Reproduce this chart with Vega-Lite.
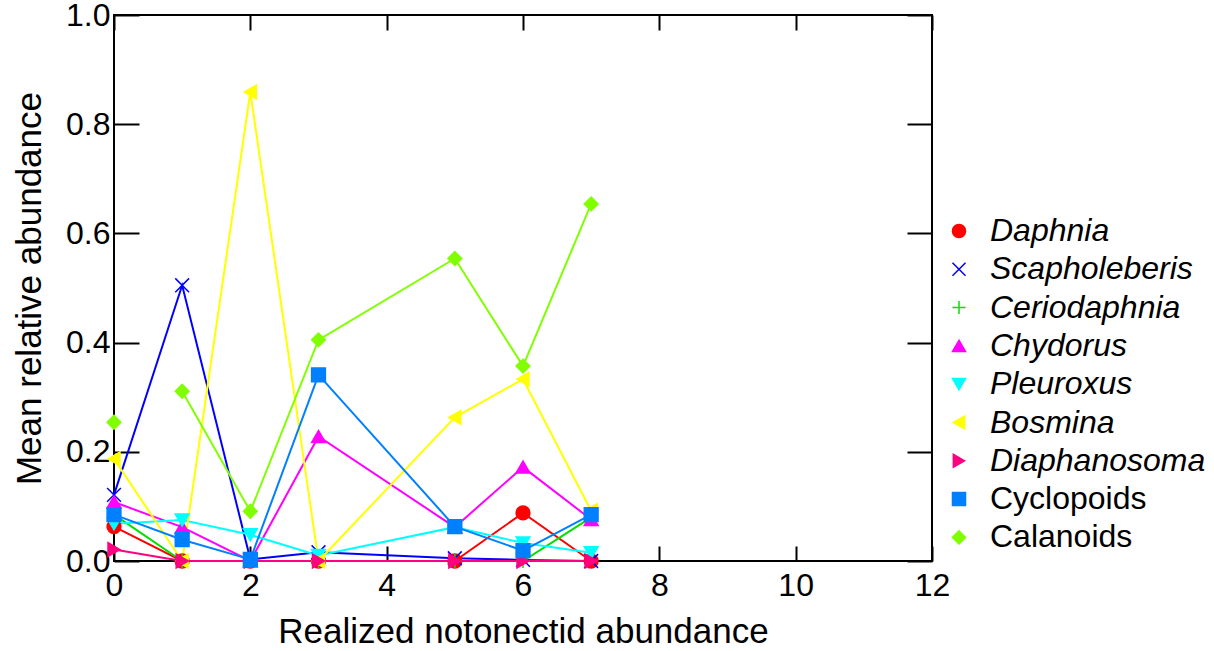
{
  "$schema": "https://vega.github.io/schema/vega-lite/v6.json",
  "width": 818,
  "height": 546,
  "autosize": {"type": "none"},
  "padding": {"left": 114, "top": 15, "right": 282, "bottom": 90},
  "background": "white",
  "config": {
    "font": "Liberation Sans",
    "view": {"stroke": "black", "strokeWidth": 2},
    "axis": {
      "grid": false,
      "domain": false,
      "tickColor": "black",
      "tickWidth": 2,
      "labelFlush": false,
      "labelColor": "black",
      "labelFont": "Liberation Sans",
      "labelFontSize": 32,
      "titleFont": "Liberation Sans",
      "titleFontSize": 35,
      "titleFontWeight": "normal",
      "titleColor": "black"
    },
    "legend": {
      "padding": 0,
      "labelFont": "Liberation Sans",
      "labelFontSize": 32,
      "labelColor": "black",
      "labelOffset": 15,
      "labelLimit": 400,
      "symbolSize": 170,
      "symbolStrokeWidth": 1.5,
      "rowPadding": 6.3
    }
  },
  "data": {
    "values": [
      {"taxon": "Daphnia", "x": 0, "y": 0.063},
      {"taxon": "Daphnia", "x": 1, "y": 0.0},
      {"taxon": "Daphnia", "x": 2, "y": 0.0},
      {"taxon": "Daphnia", "x": 3, "y": 0.0},
      {"taxon": "Daphnia", "x": 5, "y": 0.0},
      {"taxon": "Daphnia", "x": 6, "y": 0.088},
      {"taxon": "Daphnia", "x": 7, "y": 0.0},
      {"taxon": "Scapholeberis", "x": 0, "y": 0.121},
      {"taxon": "Scapholeberis", "x": 1, "y": 0.505},
      {"taxon": "Scapholeberis", "x": 2, "y": 0.003},
      {"taxon": "Scapholeberis", "x": 3, "y": 0.016},
      {"taxon": "Scapholeberis", "x": 5, "y": 0.005},
      {"taxon": "Scapholeberis", "x": 6, "y": 0.002},
      {"taxon": "Scapholeberis", "x": 7, "y": 0.0},
      {"taxon": "Ceriodaphnia", "x": 0, "y": 0.085},
      {"taxon": "Ceriodaphnia", "x": 1, "y": 0.0},
      {"taxon": "Ceriodaphnia", "x": 2, "y": 0.0},
      {"taxon": "Ceriodaphnia", "x": 3, "y": 0.0},
      {"taxon": "Ceriodaphnia", "x": 5, "y": 0.0},
      {"taxon": "Ceriodaphnia", "x": 6, "y": 0.0},
      {"taxon": "Ceriodaphnia", "x": 7, "y": 0.08},
      {"taxon": "Chydorus", "x": 0, "y": 0.108},
      {"taxon": "Chydorus", "x": 1, "y": 0.062},
      {"taxon": "Chydorus", "x": 2, "y": 0.0},
      {"taxon": "Chydorus", "x": 3, "y": 0.228},
      {"taxon": "Chydorus", "x": 5, "y": 0.062},
      {"taxon": "Chydorus", "x": 6, "y": 0.172},
      {"taxon": "Chydorus", "x": 7, "y": 0.076},
      {"taxon": "Pleuroxus", "x": 0, "y": 0.068},
      {"taxon": "Pleuroxus", "x": 1, "y": 0.075},
      {"taxon": "Pleuroxus", "x": 2, "y": 0.048},
      {"taxon": "Pleuroxus", "x": 3, "y": 0.01},
      {"taxon": "Pleuroxus", "x": 5, "y": 0.062},
      {"taxon": "Pleuroxus", "x": 6, "y": 0.033},
      {"taxon": "Pleuroxus", "x": 7, "y": 0.015},
      {"taxon": "Bosmina", "x": 0, "y": 0.187},
      {"taxon": "Bosmina", "x": 1, "y": 0.0},
      {"taxon": "Bosmina", "x": 2, "y": 0.859},
      {"taxon": "Bosmina", "x": 3, "y": 0.0},
      {"taxon": "Bosmina", "x": 5, "y": 0.263},
      {"taxon": "Bosmina", "x": 6, "y": 0.333},
      {"taxon": "Bosmina", "x": 7, "y": 0.092},
      {"taxon": "Diaphanosoma", "x": 0, "y": 0.021},
      {"taxon": "Diaphanosoma", "x": 1, "y": 0.0},
      {"taxon": "Diaphanosoma", "x": 2, "y": 0.0},
      {"taxon": "Diaphanosoma", "x": 3, "y": 0.0},
      {"taxon": "Diaphanosoma", "x": 5, "y": 0.0},
      {"taxon": "Diaphanosoma", "x": 6, "y": 0.0},
      {"taxon": "Diaphanosoma", "x": 7, "y": 0.0},
      {"taxon": "Cyclopoids", "x": 0, "y": 0.085},
      {"taxon": "Cyclopoids", "x": 1, "y": 0.039},
      {"taxon": "Cyclopoids", "x": 2, "y": 0.003},
      {"taxon": "Cyclopoids", "x": 3, "y": 0.341},
      {"taxon": "Cyclopoids", "x": 5, "y": 0.063},
      {"taxon": "Cyclopoids", "x": 6, "y": 0.019},
      {"taxon": "Cyclopoids", "x": 7, "y": 0.085},
      {"taxon": "Calanoids", "x": 0, "y": 0.254},
      {"taxon": "Calanoids", "x": 1, "y": 0.311},
      {"taxon": "Calanoids", "x": 2, "y": 0.091},
      {"taxon": "Calanoids", "x": 3, "y": 0.405},
      {"taxon": "Calanoids", "x": 5, "y": 0.554},
      {"taxon": "Calanoids", "x": 6, "y": 0.357},
      {"taxon": "Calanoids", "x": 7, "y": 0.654}
    ]
  },
  "layer": [
    {
      "transform": [{"filter": "!(datum.taxon === 'Calanoids' && datum.x === 0)"}],
      "mark": {"type": "line", "strokeWidth": 2},
      "encoding": {
        "x": {
          "field": "x", "type": "quantitative",
          "scale": {"domain": [0, 12], "nice": false, "zero": false},
          "axis": {"orient": "bottom", "title": "Realized notonectid abundance", "values": [0, 2, 4, 6, 8, 10, 12], "format": "d", "tickSize": -15, "labelPadding": 24, "titlePadding": 13}
        },
        "y": {
          "field": "y", "type": "quantitative",
          "scale": {"domain": [0, 1], "nice": false},
          "axis": {"orient": "left", "title": "Mean relative abundance", "values": [0, 0.2, 0.4, 0.6, 0.8, 1.0], "format": ".1f", "tickSize": -25, "labelPadding": 29, "titlePadding": 18}
        },
        "color": {
          "field": "taxon", "type": "nominal",
          "scale": {
            "domain": ["Calanoids", "Cyclopoids", "Diaphanosoma", "Bosmina", "Pleuroxus", "Chydorus", "Ceriodaphnia", "Scapholeberis", "Daphnia"],
            "range": ["#80ff00", "#0080ff", "#ff0080", "#ffff00", "#00ffff", "#ff00ff", "#00e000", "#0000ff", "#ff0000"]
          },
          "legend": null
        }
      }
    },
    {
      "mark": {"type": "point", "filled": true, "size": 190, "strokeWidth": 1.5, "opacity": 1},
      "encoding": {
        "x": {
          "field": "x", "type": "quantitative",
          "scale": {"domain": [0, 12], "nice": false, "zero": false},
          "axis": {"orient": "top", "title": null, "labels": false, "values": [0, 2, 4, 6, 8, 10, 12], "tickSize": -15}
        },
        "y": {
          "field": "y", "type": "quantitative",
          "scale": {"domain": [0, 1], "nice": false},
          "axis": {"orient": "right", "title": null, "labels": false, "values": [0, 0.2, 0.4, 0.6, 0.8, 1.0], "tickSize": -25}
        },
        "fill": {
          "field": "taxon", "type": "nominal",
          "scale": {
            "domain": ["Daphnia", "Scapholeberis", "Ceriodaphnia", "Chydorus", "Pleuroxus", "Bosmina", "Diaphanosoma", "Cyclopoids", "Calanoids"],
            "range": ["#ff0000", "#0000ff", "#00e000", "#ff00ff", "#00ffff", "#ffff00", "#ff0080", "#0080ff", "#80ff00"]
          },
          "legend": {
            "title": null,
            "orient": "none", "legendX": 829, "legendY": 200,
            "labelFontStyle": {"expr": "datum.value === 'Cyclopoids' || datum.value === 'Calanoids' ? 'normal' : 'italic'"}
          }
        },
        "stroke": {
          "field": "taxon", "type": "nominal",
          "scale": {
            "domain": ["Daphnia", "Scapholeberis", "Ceriodaphnia", "Chydorus", "Pleuroxus", "Bosmina", "Diaphanosoma", "Cyclopoids", "Calanoids"],
            "range": ["#ff0000", "#0000ff", "#00e000", "#ff00ff", "#00ffff", "#ffff00", "#ff0080", "#0080ff", "#80ff00"]
          },
          "legend": {"title": null, "orient": "none", "legendX": 829, "legendY": 200}
        },
        "shape": {
          "field": "taxon", "type": "nominal",
          "scale": {
            "domain": ["Daphnia", "Scapholeberis", "Ceriodaphnia", "Chydorus", "Pleuroxus", "Bosmina", "Diaphanosoma", "Cyclopoids", "Calanoids"],
            "range": ["circle", "M-1,-1L1,1M1,-1L-1,1", "M-1,0L1,0M0,-1L0,1", "triangle-up", "triangle-down", "triangle-left", "triangle-right", "square", "diamond"]
          },
          "legend": {"title": null, "orient": "none", "legendX": 829, "legendY": 200}
        }
      }
    }
  ],
  "resolve": {"scale": {"x": "independent", "y": "independent"}, "axis": {"x": "independent", "y": "independent"}}
}
